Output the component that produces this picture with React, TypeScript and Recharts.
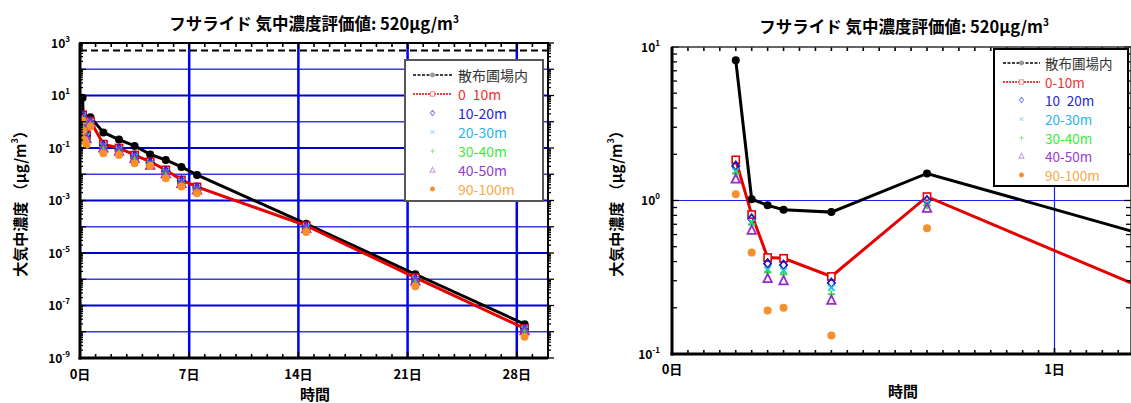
import React from "react";
import { ComposedChart, Line, XAxis, YAxis, ReferenceLine } from "recharts";

const FONT = '"Noto Sans CJK JP", "Noto Sans", sans-serif';

// sampling times, hours after application
const hours = [4, 5, 6, 7, 10, 16, 36, 60, 84, 108, 132, 156, 180, 348, 516, 684];

// air concentration (µg/m3)
const inField = [8.2, 1.02, 0.93, 0.87, 0.84, 1.5, 0.39, 0.21, 0.12, 0.057, 0.035, 0.019, 0.0094, 1.3e-4, 1.55e-6, 1.95e-8];
const m0to10 = [1.84, 0.81, 0.425, 0.42, 0.32, 1.06, 0.14, 0.1, 0.054, 0.03, 0.0146, 0.0061, 0.0033, 1.1e-4, 1.15e-6, 1.35e-8];
const m10to20 = [1.68, 0.76, 0.388, 0.38, 0.29, 1.0, 0.125, 0.092, 0.05, 0.027, 0.013, 0.0055, 0.003, 1.0e-4, 1.0e-6, 1.25e-8];
const m20to30 = [1.55, 0.72, 0.355, 0.35, 0.27, 0.96, 0.115, 0.085, 0.046, 0.025, 0.012, 0.005, 0.0028, 9.5e-5, 9.5e-7, 1.2e-8];
const m30to40 = [1.5, 0.7, 0.34, 0.33, 0.245, 0.93, 0.11, 0.08, 0.044, 0.024, 0.0115, 0.0048, 0.0027, 9e-5, 9e-7, 1.15e-8];
const m40to50 = [1.38, 0.64, 0.31, 0.3, 0.224, 0.89, 0.1, 0.075, 0.04, 0.022, 0.0105, 0.0044, 0.0025, 8.5e-5, 8.5e-7, 1.1e-8];
const m90to100 = [1.1, 0.458, 0.192, 0.2, 0.132, 0.66, 0.063, 0.054, 0.026, 0.021, 0.0071, 0.0034, 0.0019, 6.3e-5, 5.4e-7, 6.5e-9];

const evalValue = 520;

const legendLeft = ["散布圃場内", "0\u200210m", "10-20m", "20-30m", "30-40m", "40-50m", "90-100m"];
const legendRight = ["散布圃場内", "0-10m", "10\u200220m", "20-30m", "30-40m", "40-50m", "90-100m"];

const series = [
  { key: "inField", kind: "circle", color: "#000000", line: true, text: "#333333", legend: "#999999" },
  { key: "m0to10", kind: "square", color: "#e60000", line: true, text: "#f03030", legend: "#f08080" },
  { key: "m10to20", kind: "diamond", color: "#1414d2", line: false, text: "#2424d8", legend: "#8c8cec" },
  { key: "m20to30", kind: "cross", color: "#18c0e8", line: false, text: "#28b4f0", legend: "#a8dcf8" },
  { key: "m30to40", kind: "plus", color: "#2ee02e", line: false, text: "#3ee83e", legend: "#90ec90" },
  { key: "m40to50", kind: "triangle", color: "#9a28d0", line: false, text: "#9a3ad4", legend: "#c8a0e8" },
  { key: "m90to100", kind: "circle", color: "#f7902a", line: false, text: "#f8a848", legend: "#f88a2a" },
];

const rows = hours.map((h, i) => ({
  t: h / 24,
  inField: inField[i],
  m0to10: m0to10[i],
  m10to20: m10to20[i],
  m20to30: m20to30[i],
  m30to40: m30to40[i],
  m40to50: m40to50[i],
  m90to100: m90to100[i],
}));

// axis ticks
const leftDecades = [-9, -8, -7, -6, -5, -4, -3, -2, -1, 0, 1, 2, 3];
const leftGrid = [-8, -7, -6, -5, -4, -3, -2, -1, 0, 1, 2];
const leftYTicks: number[] = [];
leftDecades.forEach((k) => {
  if (k === 3) { leftYTicks.push(1e3); return; }
  for (let m = 1; m <= 9; m++) leftYTicks.push(m * Math.pow(10, k));
});
const leftDays = Array.from({ length: 31 }, (_, i) => i);
const leftDayLabels = [0, 7, 14, 21, 28];

const rightYTicks = [0.1, 0.2, 0.3, 0.4, 0.5, 0.6, 0.7, 0.8, 0.9, 1, 2, 3, 4, 5, 6, 7, 8, 9, 10];
const rightHours = Array.from({ length: 29 }, (_, i) => i / 24);

// plot boxes (chart-relative)
const L = { left: 80, right: 548, top: 43, bottom: 358 };
const R = { left: 92, right: 551, top: 47, bottom: 354 };
const RX = 580;

const isDecade = (v: number) => {
  const e = Math.log10(v);
  return Math.abs(e - Math.round(e)) < 1e-6;
};

function Marker({ kind, x, y, color, s = 1 }: any) {
  if (x == null || y == null || isNaN(x) || isNaN(y)) return null;
  const sw = 1.8 * s;
  switch (kind) {
    case "circle":
      return <circle cx={x} cy={y} r={4 * s} fill={color} />;
    case "square":
      return <rect x={x - 3.6 * s} y={y - 3.6 * s} width={7.2 * s} height={7.2 * s} fill="#fff" stroke={color} strokeWidth={1.6 * s} />;
    case "diamond":
      return <polygon points={`${x},${y - 4.5 * s} ${x + 3.6 * s},${y} ${x},${y + 4.5 * s} ${x - 3.6 * s},${y}`} fill="none" stroke={color} strokeWidth={sw} />;
    case "cross":
      return (
        <g stroke={color} strokeWidth={sw}>
          <line x1={x - 3.2 * s} y1={y - 3.2 * s} x2={x + 3.2 * s} y2={y + 3.2 * s} />
          <line x1={x - 3.2 * s} y1={y + 3.2 * s} x2={x + 3.2 * s} y2={y - 3.2 * s} />
        </g>
      );
    case "plus":
      return (
        <g stroke={color} strokeWidth={sw}>
          <line x1={x - 3.8 * s} y1={y} x2={x + 3.8 * s} y2={y} />
          <line x1={x} y1={y - 3.8 * s} x2={x} y2={y + 3.8 * s} />
        </g>
      );
    case "triangle":
      return <polygon points={`${x},${y - 4.8 * s} ${x + 4.2 * s},${y + 3.6 * s} ${x - 4.2 * s},${y + 3.6 * s}`} fill="none" stroke={color} strokeWidth={sw} />;
  }
  return null;
}

const dotFor = (kind: string, color: string) => (p: any) => (
  <Marker key={`${kind}-${color}-${p.index}`} kind={kind} x={p.cx} y={p.cy} color={color} />
);

const tickFont = { fontFamily: FONT, fontWeight: 700, fill: "#000" };

function Pow10({ x, y, exp, anchor = "end" }: any) {
  return (
    <text x={x} y={y + 4.5} textAnchor={anchor} fontSize={12} {...tickFont}>
      10<tspan dy={-6} fontSize={8}>{exp}</tspan>
    </text>
  );
}

const LeftYTick = (props: any) => {
  const { y, payload } = props;
  const v = payload.value;
  const major = isDecade(v);
  const ex = Math.round(Math.log10(v));
  const len = major ? 6 : 3;
  return (
    <g>
      <line x1={L.left} x2={L.left + len} y1={y} y2={y} stroke="#000" strokeWidth={1.3} />
      <line x1={L.right} x2={L.right + len} y1={y} y2={y} stroke="#000" strokeWidth={1.3} />
      {major && ex % 2 !== 0 && <Pow10 x={70} y={y} exp={ex} />}
    </g>
  );
};

const LeftXTick = (props: any) => {
  const { x, payload } = props;
  const d = Math.round(payload.value);
  const major = leftDayLabels.includes(d);
  const len = major ? 6 : 4;
  return (
    <g>
      <line x1={x} x2={x} y1={L.bottom} y2={L.bottom - len} stroke="#000" strokeWidth={1.6} />
      <line x1={x} x2={x} y1={L.top} y2={L.top + len} stroke="#000" strokeWidth={1.6} />
      {major && (
        <text x={x} y={L.bottom + 21} textAnchor="middle" fontSize={13} {...tickFont}>
          {d}日
        </text>
      )}
    </g>
  );
};

const RightYTick = (props: any) => {
  const { y, payload } = props;
  const v = payload.value;
  const major = isDecade(v);
  const len = major ? 7 : 5;
  return (
    <g>
      <line x1={R.left} x2={R.left + len} y1={y} y2={y} stroke="#000" strokeWidth={1.3} />
      <line x1={R.right - len} x2={R.right} y1={y} y2={y} stroke="#000" strokeWidth={1.3} />
      {major && <Pow10 x={80} y={y} exp={Math.round(Math.log10(v))} />}
    </g>
  );
};

const RightXTick = (props: any) => {
  const { x, payload } = props;
  const h = Math.round(payload.value * 24);
  const major = h % 24 === 0;
  const len = major ? 6 : 4;
  return (
    <g>
      <line x1={x} x2={x} y1={R.bottom} y2={R.bottom - len} stroke="#000" strokeWidth={1.6} />
      <line x1={x} x2={x} y1={R.top} y2={R.top + len} stroke="#000" strokeWidth={1.6} />
      {major && (
        <text x={x} y={R.bottom + 20} textAnchor="middle" fontSize={13} {...tickFont}>
          {h / 24}日
        </text>
      )}
    </g>
  );
};

function SeriesLines() {
  return series.map((s) => (
    <Line
      key={s.key}
      dataKey={s.key}
      type="linear"
      stroke={s.line ? s.color : "none"}
      strokeWidth={s.line ? 3 : 0}
      dot={dotFor(s.kind, s.color)}
      activeDot={false}
      isAnimationActive={false}
    />
  ));
}

function Title({ cx, y }: any) {
  return (
    <text x={cx} y={y} textAnchor="middle" fontSize={16.5} fontFamily={FONT} fontWeight={700} fill="#000">
      フサライド 気中濃度評価値: 520μg/m<tspan dy={-7} fontSize={10}>3</tspan>
    </text>
  );
}

function YLabel({ x, y }: any) {
  return (
    <text
      x={x}
      y={y}
      transform={`rotate(-90 ${x} ${y})`}
      textAnchor="middle"
      dominantBaseline="central"
      fontSize={15}
      fontFamily={FONT}
      fontWeight={700}
      fill="#000"
    >
      大気中濃度 （μg/m<tspan dy={-5} fontSize={9}>3</tspan><tspan dy={5}>）</tspan>
    </text>
  );
}

function LegendBox({ x, y, w, h, rowY, textX, lx1, lx2, labels, stroke, fs }: any) {
  const mx = (lx1 + lx2) / 2;
  return (
    <g>
      <rect x={x} y={y} width={w} height={h} fill="#fff" stroke={stroke} strokeWidth={2} />
      {series.map((s, i) => {
        const ry = rowY[i];
        return (
          <g key={s.key}>
            {i === 0 && <line x1={lx1} x2={lx2} y1={ry} y2={ry} stroke="#000" strokeWidth={1.6} strokeDasharray="3 1.5" />}
            {i === 1 && <line x1={lx1} x2={lx2} y1={ry} y2={ry} stroke="#e60000" strokeWidth={1.6} strokeDasharray="2 1" />}
            <Marker kind={s.kind} x={mx} y={ry} color={s.legend} s={0.6} />
            <text x={textX} y={ry} dominantBaseline="central" fontSize={fs} fontFamily={FONT} fill={s.text}>
              {labels[i]}
            </text>
          </g>
        );
      })}
    </g>
  );
}

export default function App() {
  const leftRows = [75, 94, 113, 132, 151, 170, 189];
  const rightRows = [63, 82, 100, 119, 138, 156, 175];
  return (
    <div style={{ position: "fixed", left: 0, top: 0, width: 1131, height: 403, overflow: "hidden", background: "#fff" }}>
      <div style={{ position: "absolute", left: 0, top: 0 }}>
        <ComposedChart width={560} height={403} data={rows} margin={{ top: 43, right: 12, bottom: 0, left: 0 }}>
          <XAxis
            dataKey="t"
            type="number"
            domain={[0, 30]}
            ticks={leftDays}
            interval={0}
            height={45}
            tickSize={0}
            tickLine={false}
            axisLine={false}
            tick={LeftXTick}
            allowDataOverflow
          />
          <YAxis
            type="number"
            scale="log"
            domain={[1e-9, 1e3]}
            ticks={leftYTicks}
            interval={0}
            width={80}
            tickSize={0}
            tickLine={false}
            axisLine={false}
            tick={LeftYTick}
            allowDataOverflow
          />
          {leftGrid.map((k) => (
            <ReferenceLine
              key={`h${k}`}
              y={Math.pow(10, k)}
              stroke={k % 2 !== 0 ? "#0000d0" : "#3a3ae6"}
              strokeWidth={k % 2 !== 0 ? 2.2 : 1.5}
            />
          ))}
          {[7, 14, 21, 28].map((d) => (
            <ReferenceLine key={`v${d}`} x={d} stroke="#0000ee" strokeWidth={2.5} />
          ))}
          <ReferenceLine y={evalValue} stroke="#000" strokeWidth={2} strokeDasharray="7 4" />
          {SeriesLines()}
        </ComposedChart>
      </div>
      <div style={{ position: "absolute", left: RX, top: 0 }}>
        <ComposedChart width={551} height={403} data={rows} margin={{ top: 47, right: 0, bottom: 0, left: 0 }}>
          <XAxis
            dataKey="t"
            type="number"
            domain={[0, 1.2]}
            ticks={rightHours}
            interval={0}
            height={49}
            tickSize={0}
            tickLine={false}
            axisLine={false}
            tick={RightXTick}
            allowDataOverflow
          />
          <YAxis
            type="number"
            scale="log"
            domain={[0.1, 10]}
            ticks={rightYTicks}
            interval={0}
            width={92}
            tickSize={0}
            tickLine={false}
            axisLine={false}
            tick={RightYTick}
            allowDataOverflow
          />
          <ReferenceLine y={1} stroke="#2020ee" strokeWidth={1.2} />
          <ReferenceLine x={1} stroke="#2020ee" strokeWidth={1.2} />
          {SeriesLines()}
        </ComposedChart>
      </div>
      <svg
        width={1131}
        height={403}
        style={{ position: "absolute", left: 0, top: 0, pointerEvents: "none" }}
      >
        {/* left frame */}
        <rect x={L.left} y={L.top} width={L.right - L.left} height={L.bottom - L.top} fill="none" stroke="#000" strokeWidth={2} />
        <line x1={L.left} x2={L.left} y1={L.top} y2={L.bottom + 1.5} stroke="#000" strokeWidth={3} />
        <line x1={L.left - 1.5} x2={L.right} y1={L.bottom} y2={L.bottom} stroke="#000" strokeWidth={3} />
        {/* right frame */}
        <rect x={RX + R.left} y={R.top} width={R.right - R.left} height={R.bottom - R.top} fill="none" stroke="#333" strokeWidth={1.5} />
        <line x1={RX + R.left} x2={RX + R.left} y1={R.top} y2={R.bottom + 1.5} stroke="#000" strokeWidth={3} />
        <line x1={RX + R.left - 1.5} x2={RX + R.right} y1={R.bottom} y2={R.bottom} stroke="#000" strokeWidth={3} />

        <Title cx={314} y={30} />
        <Title cx={904} y={33} />
        <YLabel x={19} y={200} />
        <YLabel x={615} y={200} />
        <text x={315} y={400} textAnchor="middle" fontSize={15} fontFamily={FONT} fontWeight={700}>時間</text>
        <text x={903} y={397} textAnchor="middle" fontSize={15} fontFamily={FONT} fontWeight={700}>時間</text>

        <LegendBox x={405} y={60} w={138} h={141} rowY={leftRows} textX={458} lx1={413} lx2={452} labels={legendLeft} stroke="#555" fs={14} />
        <LegendBox x={994} y={49} w={134} h={137} rowY={rightRows} textX={1045} lx1={1003} lx2={1040} labels={legendRight} stroke="#000" fs={13.5} />
      </svg>
    </div>
  );
}
